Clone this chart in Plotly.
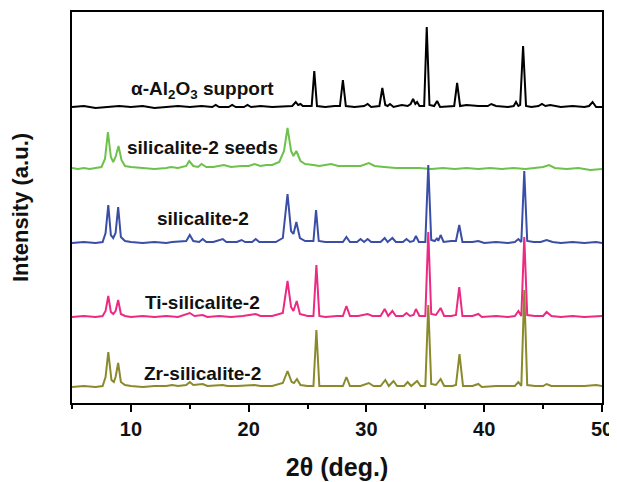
import plotly.graph_objects as go

# 2-theta / relative intensity pairs (intensity above each baseline, a.u.)
AL2O3 = [(5,0),(6,1),(7,-1),(8,0),(9,1),(10,0),(11,1),(12,-1),(13,0),(14,1),(15,0),(16,1),(16.9,0),(17.2,2),(17.5,0),
         (18.3,0),(18.6,2),(18.9,0),(19.6,0),(19.9,2),(20.2,0),(21,1),(22,0),(23,1),(23.7,1),(24.0,5),(24.2,2),(24.4,3),
         (24.6,1),(25.35,1),(25.57,36),(25.8,1),(26.5,0),(27.3,1),(27.75,1),(28.0,27),(28.25,1),(29,0),(29.8,1),(30.1,3),
         (30.4,0),(31.1,1),(31.35,19),(31.6,2),(31.8,1),(32.0,3),(32.3,0),(33.0,2),(33.5,1),(33.75,3),(33.96,8),(34.15,3),
         (34.3,5),(34.5,1),(34.9,1),(35.12,80),(35.35,2),(35.75,1),(36.0,6),(36.25,0),(37.0,1),(37.45,1),(37.7,24),
         (37.95,1),(38.5,2),(39.5,1),(40.3,1),(40.6,3),(41,1),(42,0),(42.5,1),(42.7,5),(42.9,1),(43.05,2),(43.3,61),
         (43.55,1),(44,0),(44.6,1),(44.9,3),(45.2,1),(45.6,2),(46.5,0),(47.5,1),(48.5,0),(48.9,1),(49.2,5),(49.5,0),(50,0)]

SEEDS = [(5,1),(5.5,0),(6,1),(6.5,0),(7,1),(7.5,2),(7.8,10),(8.05,37),(8.3,12),(8.5,7),(8.7,12),(8.95,23),(9.2,9),
         (9.5,3),(10,2),(11,1),(12,0),(13,1),(13.4,2),(14,1),(14.7,3),(14.95,8),(15.3,3),(15.7,2),(16.0,5),(16.4,2),
         (17,2),(17.9,4),(18.5,2),(19.4,3),(20,3),(20.5,5),(21,3),(21.5,4),(22,4),(22.6,7),(23.0,18),(23.3,41),(23.6,18),
         (23.8,13),(24.05,18),(24.4,8),(24.8,5),(25.5,4),(26,3),(27,5),(27.6,3),(28.5,3),(29.5,3),(30.2,6),(30.7,3),
         (31.5,2),(32.5,1),(33.5,1),(34.5,1),(35.5,0),(36.5,1),(37.5,0),(38.5,1),(39.5,0),(40.5,1),(41.5,0),(42.5,1),
         (43.5,0),(44.5,1),(45.0,2),(45.5,4),(46,1),(47,0),(48,1),(49,-1),(50,0)]

SIL2 = [(5,0),(6,1),(7,0),(7.6,1),(7.85,10),(8.08,38),(8.3,8),(8.5,5),(8.7,10),(8.92,36),(9.15,6),(9.5,2),(10,1),(11,0),
        (12,1),(13,0),(13.5,1),(14.7,2),(15.0,8),(15.3,2),(15.8,1),(16.1,4),(16.4,1),(17,1),(17.8,4),(18.1,1),(19,1),
        (19.4,3),(19.7,1),(20.3,1),(20.6,4),(20.9,1),(21.5,1),(22.3,1),(22.9,5),(23.3,49),(23.6,12),(23.8,9),(24.05,21),
        (24.35,5),(24.8,2),(25.5,2),(25.72,33),(25.95,2),(26.5,1),(27.5,1),(28.0,1),(28.3,6),(28.6,1),(29.2,1),(29.5,4),
        (29.8,1),(30.1,4),(30.4,1),(31.2,1),(31.55,5),(31.8,1),(32.2,5),(32.5,1),(33.1,1),(33.4,4),(33.7,1),(34.0,2),
        (34.2,7),(34.45,1),(35.0,1),(35.25,78),(35.5,3),(35.8,2),(36.0,5),(36.1,2),(36.3,8),(36.55,1),(37.2,2),(37.6,2),
        (37.88,18),(38.15,1),(39,1),(39.5,2),(40,0),(41,1),(42,0),(42.6,1),(42.9,4),(43.15,1),(43.4,72),(43.65,2),
        (44.2,1),(44.8,1),(45.3,3),(45.8,1),(46.5,0),(47.5,1),(48.5,0),(49.5,1),(50,0)]

TI_SIL2 = [(5,0),(6,1),(7,0),(7.6,1),(7.85,6),(8.08,21),(8.3,5),(8.5,3),(8.7,6),(8.92,17),(9.15,3),(9.5,1),(10,0),(11,1),
           (12,0),(13,1),(14,0),(15.0,4),(15.4,1),(16.1,2),(16.5,0),(17.5,1),(18.5,0),(19.5,1),(20.6,3),(21,1),(22,1),
           (22.9,4),(23.3,36),(23.6,10),(23.8,6),(24.08,16),(24.35,3),(25.0,1),(25.5,1),(25.75,52),(26.0,1),(26.5,0),
           (27.5,1),(28.0,1),(28.3,11),(28.6,1),(29.3,1),(29.6,2),(30.1,3),(30.5,1),(31.2,1),(31.55,8),(31.85,1),
           (32.2,6),(32.5,1),(33.1,1),(33.4,4),(33.7,1),(34.0,2),(34.2,8),(34.5,1),(35.0,1),(35.25,85),(35.5,3),
           (35.9,2),(36.3,9),(36.6,1),(37.2,1),(37.6,2),(37.88,30),(38.15,1),(39,1),(39.5,3),(39.8,0),(41,1),(42,0),
           (42.6,1),(42.9,6),(43.15,1),(43.4,80),(43.65,2),(44.3,1),(45.0,1),(45.3,5),(45.7,1),(46.5,0),(47.5,1),
           (48.5,0),(49.5,1),(50,1)]

ZR_SIL2 = [(5,0),(6,1),(7,0),(7.6,1),(7.85,10),(8.08,35),(8.35,7),(8.55,5),(8.7,10),(8.92,24),(9.15,5),(9.5,2),(10,1),
           (11,0),(12,1),(13,1),(13.5,2),(14,1),(14.7,2),(15.0,5),(15.3,2),(16.1,3),(16.5,1),(17.8,2),(18.2,1),(19,1),
           (20.5,2),(21,1),(22,1),(22.9,4),(23.3,16),(23.65,5),(23.85,4),(24.1,8),(24.4,2),(25,1),(25.5,1),(25.75,57),
           (26.0,1),(26.5,1),(27.5,1),(28.0,1),(28.3,10),(28.6,1),(29.5,1),(30.2,4),(30.6,1),(31.2,1),(31.6,7),(31.9,1),
           (32.3,6),(32.6,1),(33.2,1),(33.5,5),(33.8,1),(34.3,6),(34.6,1),(35.0,1),(35.25,82),(35.5,3),(35.9,2),
           (36.3,8),(36.6,1),(37.3,1),(37.6,2),(37.9,33),(38.2,1),(39,1),(39.5,3),(39.8,0),(41,1),(42,1),(42.6,1),
           (42.9,5),(43.15,1),(43.4,97),(43.65,2),(44.3,1),(45.0,1),(45.3,3),(45.7,1),(46.5,1),(47.5,1),(48.5,1),
           (49.5,2),(50,1)]

PATTERNS = [AL2O3, SEEDS, SIL2, TI_SIL2, ZR_SIL2]
OFFSETS = [296, 234, 160, 86, 16]
LABELS = ["α-Al<sub>2</sub>O<sub>3</sub> support", "silicalite-2 seeds", "silicalite-2",
          "Ti-silicalite-2", "Zr-silicalite-2"]
LABEL_Y = [313, 256, 185, 101, 30]
LABEL_X = 16.1
COLORS = ["#000000", "#6cc24a", "#3b4ea6", "#ec2a84", "#8a8a2c"]
X_TICKS = [10, 20, 30, 40, 50]

FONT = "Arial, Liberation Sans, sans-serif"

fig = go.Figure()
for pat, off, col, name in zip(PATTERNS, OFFSETS, COLORS, LABELS):
    xs = [p[0] for p in pat]
    ys = [p[1] + off for p in pat]
    fig.add_trace(go.Scatter(x=xs, y=ys, mode="lines", line=dict(color=col, width=2),
                             name=name, showlegend=False, hoverinfo="skip"))

for lab, ly in zip(LABELS, LABEL_Y):
    fig.add_annotation(x=LABEL_X, y=ly, xref="x", yref="y", text="<b>" + lab + "</b>",
                       showarrow=False, font=dict(family=FONT, size=19, color="#111111"))

# the page body adds an 8px margin, so the figure is sized to fit the 617x482 window
fig.update_layout(
    width=609, height=474,
    margin=dict(l=64, r=15, t=4, b=79),
    paper_bgcolor="white", plot_bgcolor="white",
    font=dict(family=FONT, color="#111111"),
)
fig.update_xaxes(range=[5, 50], tickvals=X_TICKS, ticktext=[str(v) for v in X_TICKS],
                 ticks="outside", ticklen=7, tickwidth=1.5, tickcolor="black",
                 minor=dict(dtick=5, tick0=5, ticks="outside", ticklen=4, tickwidth=1.5, tickcolor="black", showgrid=False),
                 showline=True, linecolor="black", linewidth=1.5, mirror=True, showgrid=False, zeroline=False,
                 automargin=False,
                 tickfont=dict(size=20, family=FONT, color="#111111", weight="bold"),
                 title=dict(text="<b>2θ (deg.)</b>", font=dict(size=25, family=FONT), standoff=20))
fig.update_yaxes(range=[0, 391], showticklabels=False, ticks="",
                 showline=True, linecolor="black", linewidth=1.5, mirror=True, showgrid=False, zeroline=False,
                 automargin=False,
                 title=dict(text="<b>Intensity (a.u.)</b>", font=dict(size=22, family=FONT), standoff=36))

fig.write_html("out.html")
